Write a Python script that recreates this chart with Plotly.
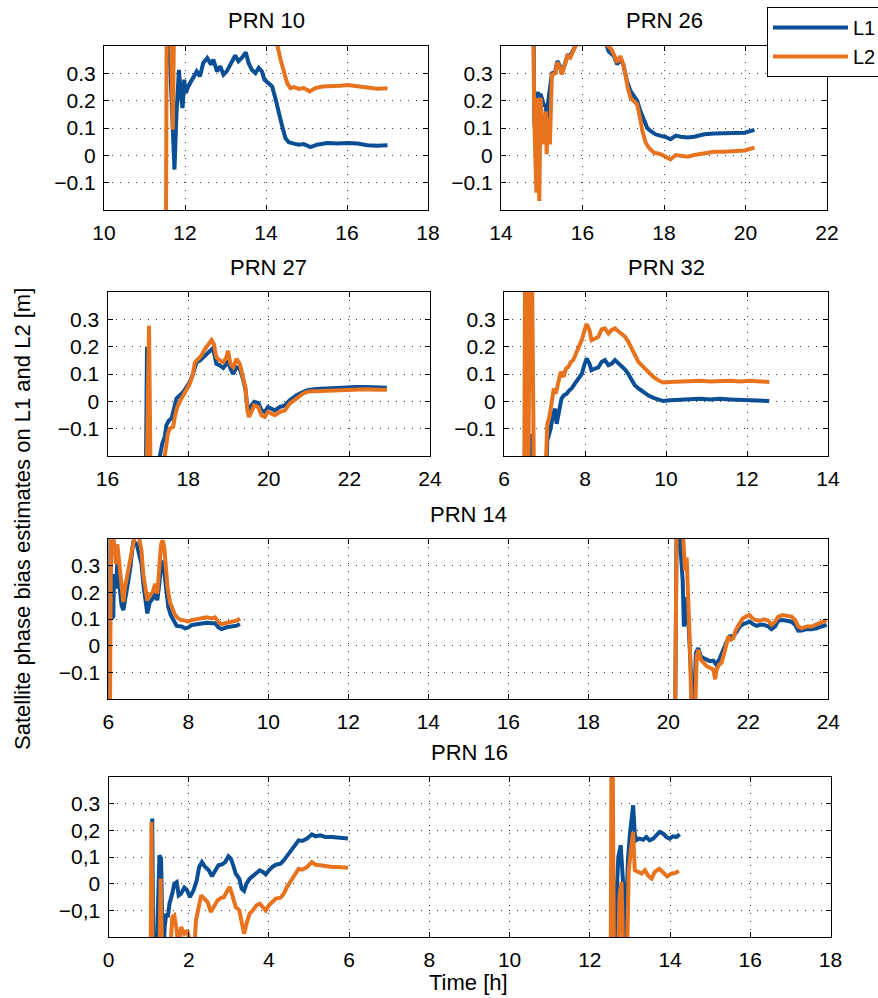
import plotly.graph_objects as go

# ---------------------------------------------------------------- data
# Satellite phase bias estimates [m] against time [h] for two carriers.

prn10_t_l1 = [11.56, 11.6, 11.645, 11.69, 11.74, 11.79, 11.85, 11.90, 11.94, 11.98, 12.02, 12.08,
              12.17, 12.29, 12.37, 12.45, 12.55, 12.64, 12.70, 12.79, 12.87, 12.95, 13.03, 13.13,
              13.24, 13.32, 13.40, 13.50, 13.57, 13.65, 13.74, 13.82, 13.90, 13.96, 14.07, 14.15,
              14.23, 14.31, 14.40, 14.48, 14.56, 14.69, 14.81, 14.93, 15.10, 15.26, 15.51, 15.76,
              16.01, 16.26, 16.50, 16.75, 17.0]
prn10_l1 = [0.60, 0.45, 0.30, 0.094, -0.052, 0.155, 0.313, 0.216, 0.173, 0.277, 0.228, 0.252,
            0.277, 0.307, 0.289, 0.338, 0.356, 0.332, 0.35, 0.307, 0.326, 0.295, 0.307, 0.332,
            0.365, 0.344, 0.356, 0.377, 0.338, 0.313, 0.301, 0.32, 0.307, 0.277, 0.265, 0.252,
            0.21, 0.155, 0.106, 0.063, 0.048, 0.043, 0.039, 0.041, 0.030, 0.039, 0.045, 0.043,
            0.045, 0.043, 0.037, 0.035, 0.037]
prn10_t_l2 = [11.50, 11.53, 11.55, 11.64, 11.70, 11.73, 11.85, 11.92, 11.96, 12.5, 13.5, 14.27,
              14.36, 14.44, 14.52, 14.60, 14.69, 14.81, 14.93, 15.08, 15.22, 15.39, 15.60, 15.84,
              16.01, 16.26, 16.50, 16.75, 17.0]
prn10_l2 = [-0.35, -0.30, 0.60, 0.55, 0.094, 0.50, 0.45, 0.40, 0.50, 0.60, 0.58, 0.41,
            0.35, 0.30, 0.265, 0.246, 0.25, 0.243, 0.246, 0.234, 0.246, 0.252, 0.252, 0.255,
            0.257, 0.252, 0.246, 0.244, 0.245]

prn26_t_l1 = [14.80, 14.815, 14.856, 14.87, 14.905, 14.94, 14.97, 15.02, 15.06, 15.10, 15.12,
              15.16, 15.20, 15.23, 15.25, 15.33, 15.38, 15.45, 15.49, 15.57, 15.63, 15.70, 15.78,
              15.86, 16.2, 16.56, 16.64, 16.77, 16.85, 16.93, 17.0, 17.09, 17.18, 17.26, 17.34,
              17.42, 17.51, 17.59, 17.67, 17.79, 17.92, 18.04, 18.16, 18.29, 18.41, 18.58, 18.74,
              18.99, 19.23, 19.48, 19.73, 19.98, 20.22]
prn26_l1 = [0.5, 0.14, 0.05, 0.22, 0.23, 0.215, 0.225, 0.20, 0.18, 0.187, 0.13,
            0.2, 0.25, 0.30, 0.30, 0.305, 0.345, 0.325, 0.30, 0.335, 0.365, 0.365, 0.39,
            0.41, 0.45, 0.42, 0.38, 0.363, 0.333, 0.35, 0.333, 0.272, 0.235, 0.217, 0.20,
            0.162, 0.126, 0.10, 0.089, 0.077, 0.071, 0.067, 0.059, 0.072, 0.068, 0.065, 0.068,
            0.077, 0.08, 0.08, 0.082, 0.083, 0.093]
prn26_t_l2 = [14.79, 14.815, 14.87, 14.905, 14.94, 14.97, 15.02, 15.06, 15.10, 15.12, 15.16,
              15.20, 15.23, 15.25, 15.33, 15.38, 15.45, 15.49, 15.57, 15.63, 15.70, 15.78, 15.86,
              16.2, 16.64, 16.71, 16.77, 16.85, 16.93, 17.0, 17.05, 17.11, 17.18, 17.26, 17.34,
              17.41, 17.47, 17.55, 17.63, 17.75, 17.88, 18.0, 18.16, 18.29, 18.41, 18.58, 18.74,
              18.99, 19.23, 19.48, 19.73, 19.98, 20.22]
prn26_l2 = [0.55, 0.138, -0.137, 0.21, -0.167, 0.21, 0.10, 0.04, 0.16, 0.004, 0.138,
            0.04, 0.2, 0.296, 0.30, 0.34, 0.32, 0.296, 0.333, 0.363, 0.357, 0.388, 0.41,
            0.46, 0.397, 0.388, 0.37, 0.34, 0.363, 0.333, 0.30, 0.248, 0.21, 0.2, 0.187,
            0.138, 0.089, 0.046, 0.028, 0.01, 0.006, -0.002, -0.015, 0.001, -0.002, -0.005, 0.001,
            0.007, 0.013, 0.013, 0.016, 0.018, 0.028]

prn27_t_l1 = [16.95, 16.98, 17.02, 17.06, 17.30, 17.36, 17.42, 17.46, 17.53, 17.59, 17.64, 17.71,
              17.79, 17.88, 17.96, 18.04, 18.12, 18.21, 18.29, 18.37, 18.45, 18.54, 18.59, 18.64,
              18.70, 18.79, 18.87, 18.95, 18.99, 19.05, 19.12, 19.20, 19.28, 19.36, 19.42, 19.47,
              19.51, 19.57, 19.64, 19.74, 19.82, 19.90, 19.98, 20.07, 20.15, 20.27, 20.40, 20.52,
              20.69, 20.85, 20.98, 21.18, 21.43, 21.68, 21.93, 22.17, 22.42, 22.67, 22.93]
prn27_l1 = [-0.3, 0.2, -0.3, -0.3, -0.2, -0.154, -0.129, -0.087, -0.069, -0.063, -0.033, 0.01,
            0.022, 0.034, 0.052, 0.07, 0.10, 0.143, 0.149, 0.161, 0.173, 0.185, 0.191, 0.179,
            0.137, 0.131, 0.122, 0.137, 0.149, 0.119, 0.10, 0.125, 0.119, 0.082, 0.046, -0.021,
            -0.033, -0.015, -0.002, -0.006, -0.033, -0.039, -0.021, -0.027, -0.033, -0.021, -0.015, 0.004,
            0.022, 0.034, 0.042, 0.045, 0.047, 0.05, 0.051, 0.052, 0.052, 0.051, 0.05]
prn27_t_l2 = [16.95, 16.97, 17.03, 17.07, 17.42, 17.46, 17.50, 17.55, 17.63, 17.67, 17.73, 17.79,
              17.88, 17.96, 18.04, 18.12, 18.17, 18.25, 18.33, 18.39, 18.45, 18.52, 18.58, 18.64,
              18.70, 18.79, 18.87, 18.95, 18.99, 19.05, 19.12, 19.20, 19.28, 19.36, 19.42, 19.47,
              19.51, 19.57, 19.64, 19.74, 19.82, 19.90, 19.98, 20.07, 20.15, 20.27, 20.40, 20.52,
              20.69, 20.85, 20.98, 21.18, 21.43, 21.68, 21.93, 22.17, 22.42, 22.67, 22.93]
prn27_l2 = [-0.3, -0.3, 0.276, -0.3, -0.2, -0.141, -0.117, -0.099, -0.093, -0.057, -0.021, -0.002,
            0.022, 0.046, 0.064, 0.10, 0.143, 0.155, 0.167, 0.185, 0.197, 0.215, 0.224, 0.209,
            0.161, 0.149, 0.143, 0.161, 0.185, 0.137, 0.125, 0.155, 0.137, 0.088, 0.052, -0.033,
            -0.057, -0.039, -0.015, -0.021, -0.051, -0.057, -0.039, -0.045, -0.051, -0.039, -0.033, -0.008,
            0.01, 0.028, 0.036, 0.037, 0.04, 0.042, 0.044, 0.044, 0.044, 0.042, 0.042]

prn32_t_l1 = [6.60, 6.66, 6.68, 6.72, 7.04, 7.07, 7.14, 7.22, 7.26, 7.30, 7.37, 7.42, 7.48, 7.55,
              7.61, 7.67, 7.75, 7.84, 7.92, 7.98, 8.04, 8.11, 8.16, 8.25, 8.33, 8.41, 8.49, 8.58,
              8.66, 8.74, 8.82, 8.91, 8.99, 9.07, 9.15, 9.23, 9.32, 9.44, 9.56, 9.69, 9.81, 9.93,
              10.10, 10.35, 10.59, 10.84, 11.09, 11.33, 11.58, 11.83, 12.07, 12.32, 12.55]
prn32_l1 = [-0.3, -0.15, -0.12, -0.3, -0.3, -0.143, -0.106, -0.045, -0.027, -0.082, -0.021, 0.01, 0.022, 0.028,
            0.04, 0.047, 0.065, 0.083, 0.10, 0.132, 0.157, 0.138, 0.114, 0.12, 0.124, 0.144, 0.151, 0.132,
            0.138, 0.151, 0.141, 0.128, 0.116, 0.10, 0.08, 0.059, 0.047, 0.034, 0.022, 0.013, 0.007, 0.001,
            0.004, 0.006, 0.007, 0.009, 0.007, 0.009, 0.007, 0.006, 0.005, 0.004, 0.001]
prn32_t_l2 = [6.50, 6.52, 6.56, 6.60, 6.64, 6.69, 6.74, 6.79, 7.04, 7.07, 7.12, 7.18, 7.23, 7.28,
              7.34, 7.40, 7.47, 7.53, 7.59, 7.65, 7.71, 7.79, 7.86, 7.92, 7.98, 8.04, 8.11, 8.16,
              8.25, 8.33, 8.41, 8.49, 8.58, 8.66, 8.74, 8.82, 8.91, 8.99, 9.07, 9.15, 9.23, 9.32,
              9.44, 9.56, 9.69, 9.81, 9.93, 10.10, 10.35, 10.59, 10.84, 11.09, 11.33, 11.58, 11.83,
              12.07, 12.32, 12.55]
prn32_l2 = [-0.3, 0.5, 0.5, -0.3, 0.5, 0.5, -0.3, -0.3, -0.2, -0.082, -0.058, 0.004, 0.047, 0.028,
            0.077, 0.108, 0.089, 0.12, 0.126, 0.144, 0.151, 0.181, 0.20, 0.224, 0.255, 0.283, 0.261, 0.224,
            0.23, 0.236, 0.263, 0.267, 0.248, 0.261, 0.267, 0.258, 0.248, 0.236, 0.218, 0.193, 0.169, 0.144,
            0.126, 0.108, 0.089, 0.077, 0.069, 0.071, 0.072, 0.075, 0.075, 0.073, 0.075, 0.075, 0.073,
            0.075, 0.073, 0.071]

# PRN 14 and PRN 16 have two visibility passes; None separates them.
prn14_t_l1 = [6.02, 6.05, 6.08, 6.125, 6.14, 6.19, 6.225, 6.275, 6.33, 6.375, 6.42, 6.46, 6.50, 6.54,
              6.58, 6.625, 6.71, 6.775, 6.83, 6.875, 6.93, 6.975, 7.04, 7.11, 7.17, 7.225, 7.275, 7.33,
              7.375, 7.42, 7.46, 7.50, 7.56, 7.625, 7.71, 7.83, 7.92, 8.0, 8.08, 8.21, 8.33, 8.46,
              8.58, 8.67, 8.75, 8.83, 8.96, 9.08, 9.21, 9.29, None,
              20.17, 20.21, 20.29, 20.36, 20.39, 20.44, 20.475, 20.525, 20.58, 20.64, 20.69, 20.75,
              20.81, 20.875, 20.96, 21.04, 21.125, 21.19, 21.275, 21.375, 21.46, 21.54, 21.625, 21.71,
              21.79, 21.875, 21.96, 22.04, 22.125, 22.21, 22.29, 22.39, 22.5, 22.58, 22.67, 22.75,
              22.86, 22.96, 23.08, 23.17, 23.25, 23.33, 23.46, 23.58, 23.71, 23.83, 23.96]
prn14_l1 = [-0.3, 0.4, 0.1, 0.11, 0.269, 0.214, 0.306, 0.244, 0.152, 0.133, 0.183, 0.226, 0.244, 0.281,
            0.331, 0.393, 0.38, 0.331, 0.306, 0.232, 0.170, 0.121, 0.164, 0.176, 0.20, 0.170, 0.232, 0.318,
            0.306, 0.257, 0.195, 0.146, 0.115, 0.096, 0.074, 0.072, 0.065, 0.068, 0.077, 0.08, 0.084, 0.086,
            0.084, 0.084, 0.069, 0.062, 0.069, 0.072, 0.075, 0.081, None,
            -0.3, 0.5, 0.4, 0.244, 0.072, 0.096, 0.183, 0.0, -0.15, -0.25, -0.027, -0.009,
            -0.04, -0.046, -0.052, -0.058, -0.056, -0.070, -0.052, -0.015, 0.016, 0.035, 0.035, 0.053,
            0.072, 0.081, 0.086, 0.09, 0.080, 0.074, 0.078, 0.078, 0.072, 0.062, 0.072, 0.094,
            0.096, 0.094, 0.090, 0.078, 0.056, 0.057, 0.062, 0.062, 0.065, 0.072, 0.078]
prn14_t_l2 = [6.02, 6.04, 6.07, 6.10, 6.14, 6.19, 6.225, 6.275, 6.33, 6.375, 6.42, 6.46, 6.50, 6.54,
              6.58, 6.625, 6.71, 6.775, 6.83, 6.875, 6.93, 6.975, 7.04, 7.11, 7.17, 7.225, 7.275, 7.32,
              7.36, 7.40, 7.44, 7.48, 7.54, 7.61, 7.67, 7.75, 7.83, 7.92, 8.0, 8.08, 8.21, 8.33,
              8.46, 8.58, 8.67, 8.75, 8.83, 8.96, 9.08, 9.21, 9.29, None,
              20.17, 20.21, 20.25, 20.29, 20.375, 20.42, 20.46, 20.5, 20.54, 20.58, 20.67, 20.71,
              20.75, 20.81, 20.875, 20.96, 21.04, 21.125, 21.17, 21.21, 21.275, 21.33, 21.42, 21.5,
              21.56, 21.625, 21.69, 21.775, 21.86, 21.94, 22.025, 22.11, 22.19, 22.29, 22.39, 22.5,
              22.58, 22.67, 22.75, 22.86, 22.96, 23.08, 23.17, 23.25, 23.33, 23.46, 23.58, 23.71,
              23.83, 23.96]
prn14_l2 = [-0.3, -0.3, 0.5, 0.45, 0.356, 0.306, 0.38, 0.306, 0.207, 0.164, 0.22, 0.257, 0.294, 0.33,
            0.368, 0.405, 0.45, 0.4, 0.356, 0.269, 0.207, 0.17, 0.189, 0.20, 0.232, 0.195, 0.294, 0.38,
            0.395, 0.368, 0.294, 0.22, 0.164, 0.14, 0.115, 0.102, 0.096, 0.094, 0.09, 0.096, 0.099, 0.102,
            0.106, 0.102, 0.106, 0.09, 0.08, 0.086, 0.09, 0.094, 0.102, None,
            -0.3, 0.5, 0.5, 0.45, 0.4, 0.28, 0.33, 0.183, 0.0, -0.25, -0.25, -0.04,
            -0.015, -0.052, -0.064, -0.077, -0.083, -0.089, -0.126, -0.089, -0.07, -0.064, -0.015, 0.035,
            0.022, 0.028, 0.059, 0.084, 0.102, 0.109, 0.115, 0.102, 0.096, 0.094, 0.099, 0.094,
            0.078, 0.09, 0.109, 0.115, 0.111, 0.109, 0.096, 0.072, 0.065, 0.072, 0.072, 0.08,
            0.09, 0.096]

prn16_t_l1 = [1.06, 1.09, 1.12, 1.19, 1.27, 1.31, 1.36, 1.40, 1.44, 1.48, 1.52, 1.59, 1.64, 1.70,
              1.75, 1.81, 1.89, 1.95, 2.03, 2.12, 2.20, 2.26, 2.33, 2.41, 2.50, 2.58, 2.66, 2.74,
              2.83, 2.91, 2.99, 3.05, 3.11, 3.17, 3.26, 3.32, 3.38, 3.44, 3.52, 3.60, 3.69, 3.77,
              3.85, 3.92, 4.0, 4.08, 4.17, 4.29, 4.37, 4.45, 4.56, 4.66, 4.74, 4.83, 4.95, 5.07,
              5.16, 5.28, 5.40, 5.57, 5.74, 5.97, None,
              12.58, 12.62, 12.65, 12.71, 12.77, 12.83, 12.87, 12.91, 12.95, 13.0, 13.04, 13.08,
              13.12, 13.16, 13.24, 13.33, 13.41, 13.49, 13.58, 13.66, 13.74, 13.83, 13.91, 13.99,
              14.07, 14.16, 14.24]
prn16_l1 = [-0.3, 0.244, -0.3, -0.3, 0.106, 0.094, -0.3, -0.163, -0.113, -0.125, -0.075, -0.037, 0.0, 0.006,
            -0.044, -0.0375, -0.015, -0.0225, -0.05, -0.025, 0.0125, 0.0625, 0.081, 0.0625, 0.05, 0.0275, 0.05, 0.069,
            0.0725, 0.081, 0.1025, 0.094, 0.069, 0.0375, 0.019, -0.019, -0.0275, 0.0, 0.019, 0.0275, 0.04, 0.05,
            0.044, 0.035, 0.05, 0.0625, 0.071, 0.075, 0.0875, 0.1025, 0.125, 0.144, 0.1625, 0.16, 0.169, 0.185,
            0.1775, 0.181, 0.175, 0.175, 0.1725, 0.169, None,
            -0.3, -0.3, -0.1, 0.1, 0.144, 0.0, -0.25, -0.075, 0.0875, 0.1875, 0.25, 0.294,
            0.1875, 0.1625, 0.169, 0.165, 0.175, 0.1625, 0.169, 0.181, 0.194, 0.1875, 0.175, 0.169,
            0.1775, 0.175, 0.185]
prn16_t_l2 = [1.05, 1.07, 1.10, 1.27, 1.30, 1.34, 1.52, 1.59, 1.64, 1.70, 1.75, 1.81, 1.89, 1.97,
              2.06, 2.14, 2.18, 2.25, 2.31, 2.39, 2.47, 2.55, 2.64, 2.72, 2.80, 2.88, 2.97, 3.02,
              3.09, 3.17, 3.26, 3.32, 3.38, 3.44, 3.52, 3.60, 3.69, 3.77, 3.85, 3.92, 4.0, 4.08,
              4.17, 4.29, 4.37, 4.45, 4.56, 4.66, 4.74, 4.83, 4.95, 5.07, 5.16, 5.28, 5.40, 5.57,
              5.74, 5.97, None,
              12.52, 12.54, 12.57, 12.60, 12.70, 12.74, 12.79, 12.83, 12.93, 12.97, 13.02, 13.08,
              13.12, 13.2, 13.29, 13.37, 13.45, 13.54, 13.62, 13.73, 13.83, 13.93, 14.03, 14.12, 14.22]
prn16_l2 = [-0.3, 0.231, -0.3, -0.3, 0.019, -0.3, -0.3, -0.125, -0.119, -0.175, -0.25, -0.1625, -0.1875, -0.175,
            -0.25, -0.25, -0.1375, -0.0875, -0.044, -0.056, -0.069, -0.106, -0.081, -0.0625, -0.054, -0.05, -0.025, -0.0125,
            -0.044, -0.0875, -0.1, -0.15, -0.1875, -0.15, -0.1125, -0.1, -0.081, -0.075, -0.0875, -0.1, -0.081, -0.069,
            -0.056, -0.0525, -0.0375, -0.0125, 0.0125, 0.0375, 0.056, 0.0525, 0.0625, 0.081, 0.071, 0.069, 0.065, 0.0625,
            0.0625, 0.06, None,
            -0.3, 0.5, 0.5, -0.3, -0.3, -0.05, 0.006, -0.25, -0.25, 0.05, 0.12, 0.194,
            0.05, 0.044, 0.0375, 0.05, 0.031, 0.019, 0.044, 0.056, 0.044, 0.0275, 0.0375, 0.04, 0.0475]

y_tickvals = [-0.1, 0, 0.1, 0.2, 0.3]
y_ticktext = ["\u22120.1", "0", "0.1", "0.2", "0.3"]
y_ticktext_prn16 = ["\u22120,1", "0", "0,1", "0,2", "0.3"]

# ---------------------------------------------------------------- layout
W, H = 878, 998
FONT = "Liberation Sans, Arial, Helvetica, sans-serif"
BLUE = "#0A4F95"
ORANGE = "#E8731F"


def px_x(p):
    return p / W


def px_y(p):
    return 1 - p / H


panels = [
    # title, data, x range, x ticks, x pixel span, y pixel span, y tick text
    ("PRN 10", prn10_t_l1, prn10_l1, prn10_t_l2, prn10_l2, [10, 18], list(range(10, 19, 2)),
     (104, 428), (46, 210), y_ticktext),
    ("PRN 26", prn26_t_l1, prn26_l1, prn26_t_l2, prn26_l2, [14, 22], list(range(14, 23, 2)),
     (501, 827), (46, 210), y_ticktext),
    ("PRN 27", prn27_t_l1, prn27_l1, prn27_t_l2, prn27_l2, [16, 24], list(range(16, 25, 2)),
     (107.5, 430), (292, 456), y_ticktext),
    ("PRN 32", prn32_t_l1, prn32_l1, prn32_t_l2, prn32_l2, [6, 14], list(range(6, 15, 2)),
     (504, 828), (292, 456), y_ticktext),
    ("PRN 14", prn14_t_l1, prn14_l1, prn14_t_l2, prn14_l2, [6, 24], list(range(6, 25, 2)),
     (108.3, 828.3), (539, 699), y_ticktext),
    ("PRN 16", prn16_t_l1, prn16_l1, prn16_t_l2, prn16_l2, [0, 18], list(range(0, 19, 2)),
     (108.5, 830.5), (777, 937), y_ticktext_prn16),
]

fig = go.Figure()
layout = dict(
    template="none",
    width=W, height=H, autosize=False,
    margin=dict(l=0, r=0, t=0, b=0, pad=0, autoexpand=False),
    paper_bgcolor="white", plot_bgcolor="white",
    font=dict(family=FONT, size=20, color="black"),
    showlegend=True,
    legend=dict(x=px_x(767), y=px_y(7), xanchor="left", yanchor="top",
                bgcolor="white", bordercolor="black", borderwidth=1,
                font=dict(size=20), itemwidth=75, tracegroupgap=0),
)
annotations = []

axis_common = dict(
    showline=True, linecolor="black", linewidth=1, mirror="ticks",
    ticks="inside", ticklen=5, tickcolor="black", tickwidth=1,
    showgrid=True, gridcolor="#3c3c3c", gridwidth=1, griddash="1px,7px",
    zeroline=False, automargin=False,
    tickfont=dict(size=21, family=FONT, color="black"),
)

for i, (title, t1, v1, t2, v2, xr, xt, (x0, x1), (y0, y1), ytext) in enumerate(panels):
    n = "" if i == 0 else str(i + 1)
    xa, ya = "x" + n, "y" + n
    fig.add_trace(go.Scatter(x=t1, y=v1, mode="lines", name="L1",
                             showlegend=(i == 0), line=dict(color=BLUE, width=4),
                             xaxis=xa, yaxis=ya, connectgaps=False, hoverinfo="skip"))
    fig.add_trace(go.Scatter(x=t2, y=v2, mode="lines", name="L2",
                             showlegend=(i == 0), line=dict(color=ORANGE, width=4),
                             xaxis=xa, yaxis=ya, connectgaps=False, hoverinfo="skip"))
    layout["xaxis" + n] = dict(axis_common, domain=[px_x(x0), px_x(x1)], range=xr,
                               tickvals=xt, ticktext=[str(v) for v in xt], anchor=ya,
                               ticklabelstandoff=4)
    layout["yaxis" + n] = dict(axis_common, domain=[px_y(y1), px_y(y0)], range=[-0.2, 0.4],
                               tickvals=y_tickvals, ticktext=ytext, anchor=xa,
                               ticklabelstandoff=3)
    annotations.append(dict(text=title, xref="paper", yref="paper",
                            x=px_x((x0 + x1) / 2), y=px_y(y0 - 25),
                            xanchor="center", yanchor="middle", showarrow=False,
                            font=dict(size=22, family=FONT, color="black")))

annotations.append(dict(text="Time [h]", xref="paper", yref="paper",
                        x=px_x(469), y=px_y(982), xanchor="center", yanchor="middle",
                        showarrow=False, font=dict(size=22, family=FONT, color="black")))
annotations.append(dict(text="Satellite phase bias estimates on L1 and L2 [m]",
                        xref="paper", yref="paper", x=px_x(22), y=px_y(519),
                        xanchor="center", yanchor="middle", textangle=-90,
                        showarrow=False, font=dict(size=22, family=FONT, color="black")))

layout["annotations"] = annotations
fig.update_layout(**layout)
fig.write_html("out.html")
